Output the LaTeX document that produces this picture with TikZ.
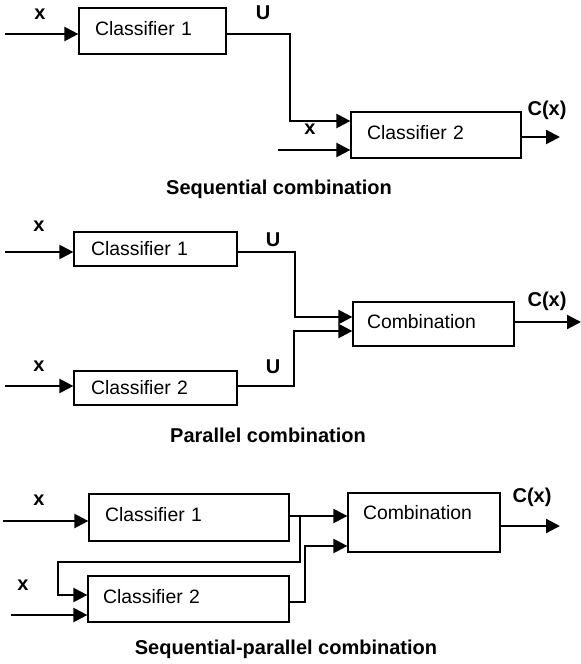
\documentclass[tikz,border=0pt]{standalone}
\usepackage{fontspec}
\setmainfont{Liberation Sans}
\usetikzlibrary{arrows.meta}
\tikzset{
  blockbox/.style={draw, line width=0.6pt, align=left, inner ysep=2pt},
  link/.style={line width=1.1pt, -{Triangle[length=7pt,width=7pt]}},
  wire/.style={line width=1.1pt},
  tag/.style={font=\bfseries, inner sep=0pt},
}
\begin{document}
\begin{tikzpicture}[x=0.5pt, y=-0.5pt, font=\fontsize{9.7}{11.6}\selectfont]
    \useasboundingbox (0,0) rectangle (581,664);
    % sequential combination
    \node[blockbox, text width=57.5pt, inner xsep=8pt, minimum height=23pt, text depth=3pt] (clsA) at (152.5,31) {Classifier 1};
    \node[blockbox, text width=69pt, inner xsep=8pt, minimum height=23pt, text depth=3pt] (clsB) at (436,135) {Classifier 2};
    \coordinate (inA) at (5,34);
    \coordinate (bendA) at (290,121);
    \coordinate (inB) at (278,150);
    \coordinate (outA) at (560,137);
    \draw[link] (inA) -- (inA -| clsA.west);
    \draw[link] (inA -| clsA.east) -| (bendA) -- (bendA -| clsB.west);
    \draw[link] (inB) -- (inB -| clsB.west);
    \draw[link] (outA -| clsB.east) -- (outA);
    \node[tag] (xA) at (40,14) {x};
    \node[tag] (uA) at (263,13) {U};
    \node[tag] (xB) at (310,129) {x};
    \node[tag] (cxA) at (547,110) {C(x)};
    \node[tag] (titleA) at (279,189) {Sequential combination};
    % parallel combination
    \node[blockbox, text width=64.5pt, inner xsep=8.5pt, minimum height=17pt, text depth=1pt] (clsC) at (155.5,249) {Classifier 1};
    \node[blockbox, text width=64.5pt, inner xsep=8.5pt, minimum height=17pt, text depth=1pt] (clsD) at (155.5,388) {Classifier 2};
    \node[blockbox, text width=66.5pt, inner xsep=7pt, minimum height=22pt, text depth=3pt] (combB) at (433.5,324) {Combination};
    \coordinate (inC) at (5,252);
    \coordinate (inD) at (5,386);
    \coordinate (bendC) at (295,317);
    \coordinate (bendD) at (294,331);
    \coordinate (outB) at (581,322);
    \draw[link] (inC) -- (inC -| clsC.west);
    \draw[link] (inD) -- (inD -| clsD.west);
    \draw[link] (inC -| clsC.east) -| (bendC) -- (bendC -| combB.west);
    \draw[link] (inD -| clsD.east) -| (bendD) -- (bendD -| combB.west);
    \draw[link] (outB -| combB.east) -- (outB);
    \node[tag] (xC) at (39,226) {x};
    \node[tag] (uC) at (273,240) {U};
    \node[tag] (xD) at (39,366) {x};
    \node[tag] (uD) at (273,367) {U};
    \node[tag] (cxB) at (547,301) {C(x)};
    \node[tag] (titleB) at (268,435) {Parallel combination};
    % sequential-parallel combination
    \node[blockbox, text width=84pt, inner xsep=8pt, minimum height=23.5pt, text depth=3pt] (clsE) at (189,517.5) {Classifier 1};
    \node[blockbox, text width=85.5pt, inner xsep=7.5pt, minimum height=23pt, text depth=3pt] (clsF) at (188.5,599) {Classifier 2};
    \node[blockbox, text width=61pt, inner xsep=7.5pt, minimum height=29.5pt, text depth=10pt] (combC) at (424,522.5) {Combination};
    \coordinate (inE) at (3,521);
    \coordinate (inF) at (11,615);
    \coordinate (joinE) at (300,516);
    \coordinate (backR) at (300,562);
    \coordinate (backL) at (58,595);
    \coordinate (outF) at (305,602);
    \coordinate (bendF) at (305,546);
    \coordinate (outC) at (560,526);
    \draw[link] (inE) -- (inE -| clsE.west);
    \draw[link] (inF) -- (inF -| clsF.west);
    \draw[link] (joinE -| clsE.east) -- (joinE -| combC.west);
    \draw[link] (joinE) -- (backR) -| (backL) -- (backL -| clsF.west);
    \draw[link] (outF -| clsF.east) -- (outF) -- (bendF) -- (bendF -| combC.west);
    \draw[link] (outC -| combC.east) -- (outC);
    \node[tag] (xE) at (39,500) {x};
    \node[tag] (xF) at (23,585) {x};
    \node[tag] (cxC) at (532,497) {C(x)};
    \node[tag] (titleC) at (286,649) {Sequential-parallel combination};
\end{tikzpicture}
\end{document}
